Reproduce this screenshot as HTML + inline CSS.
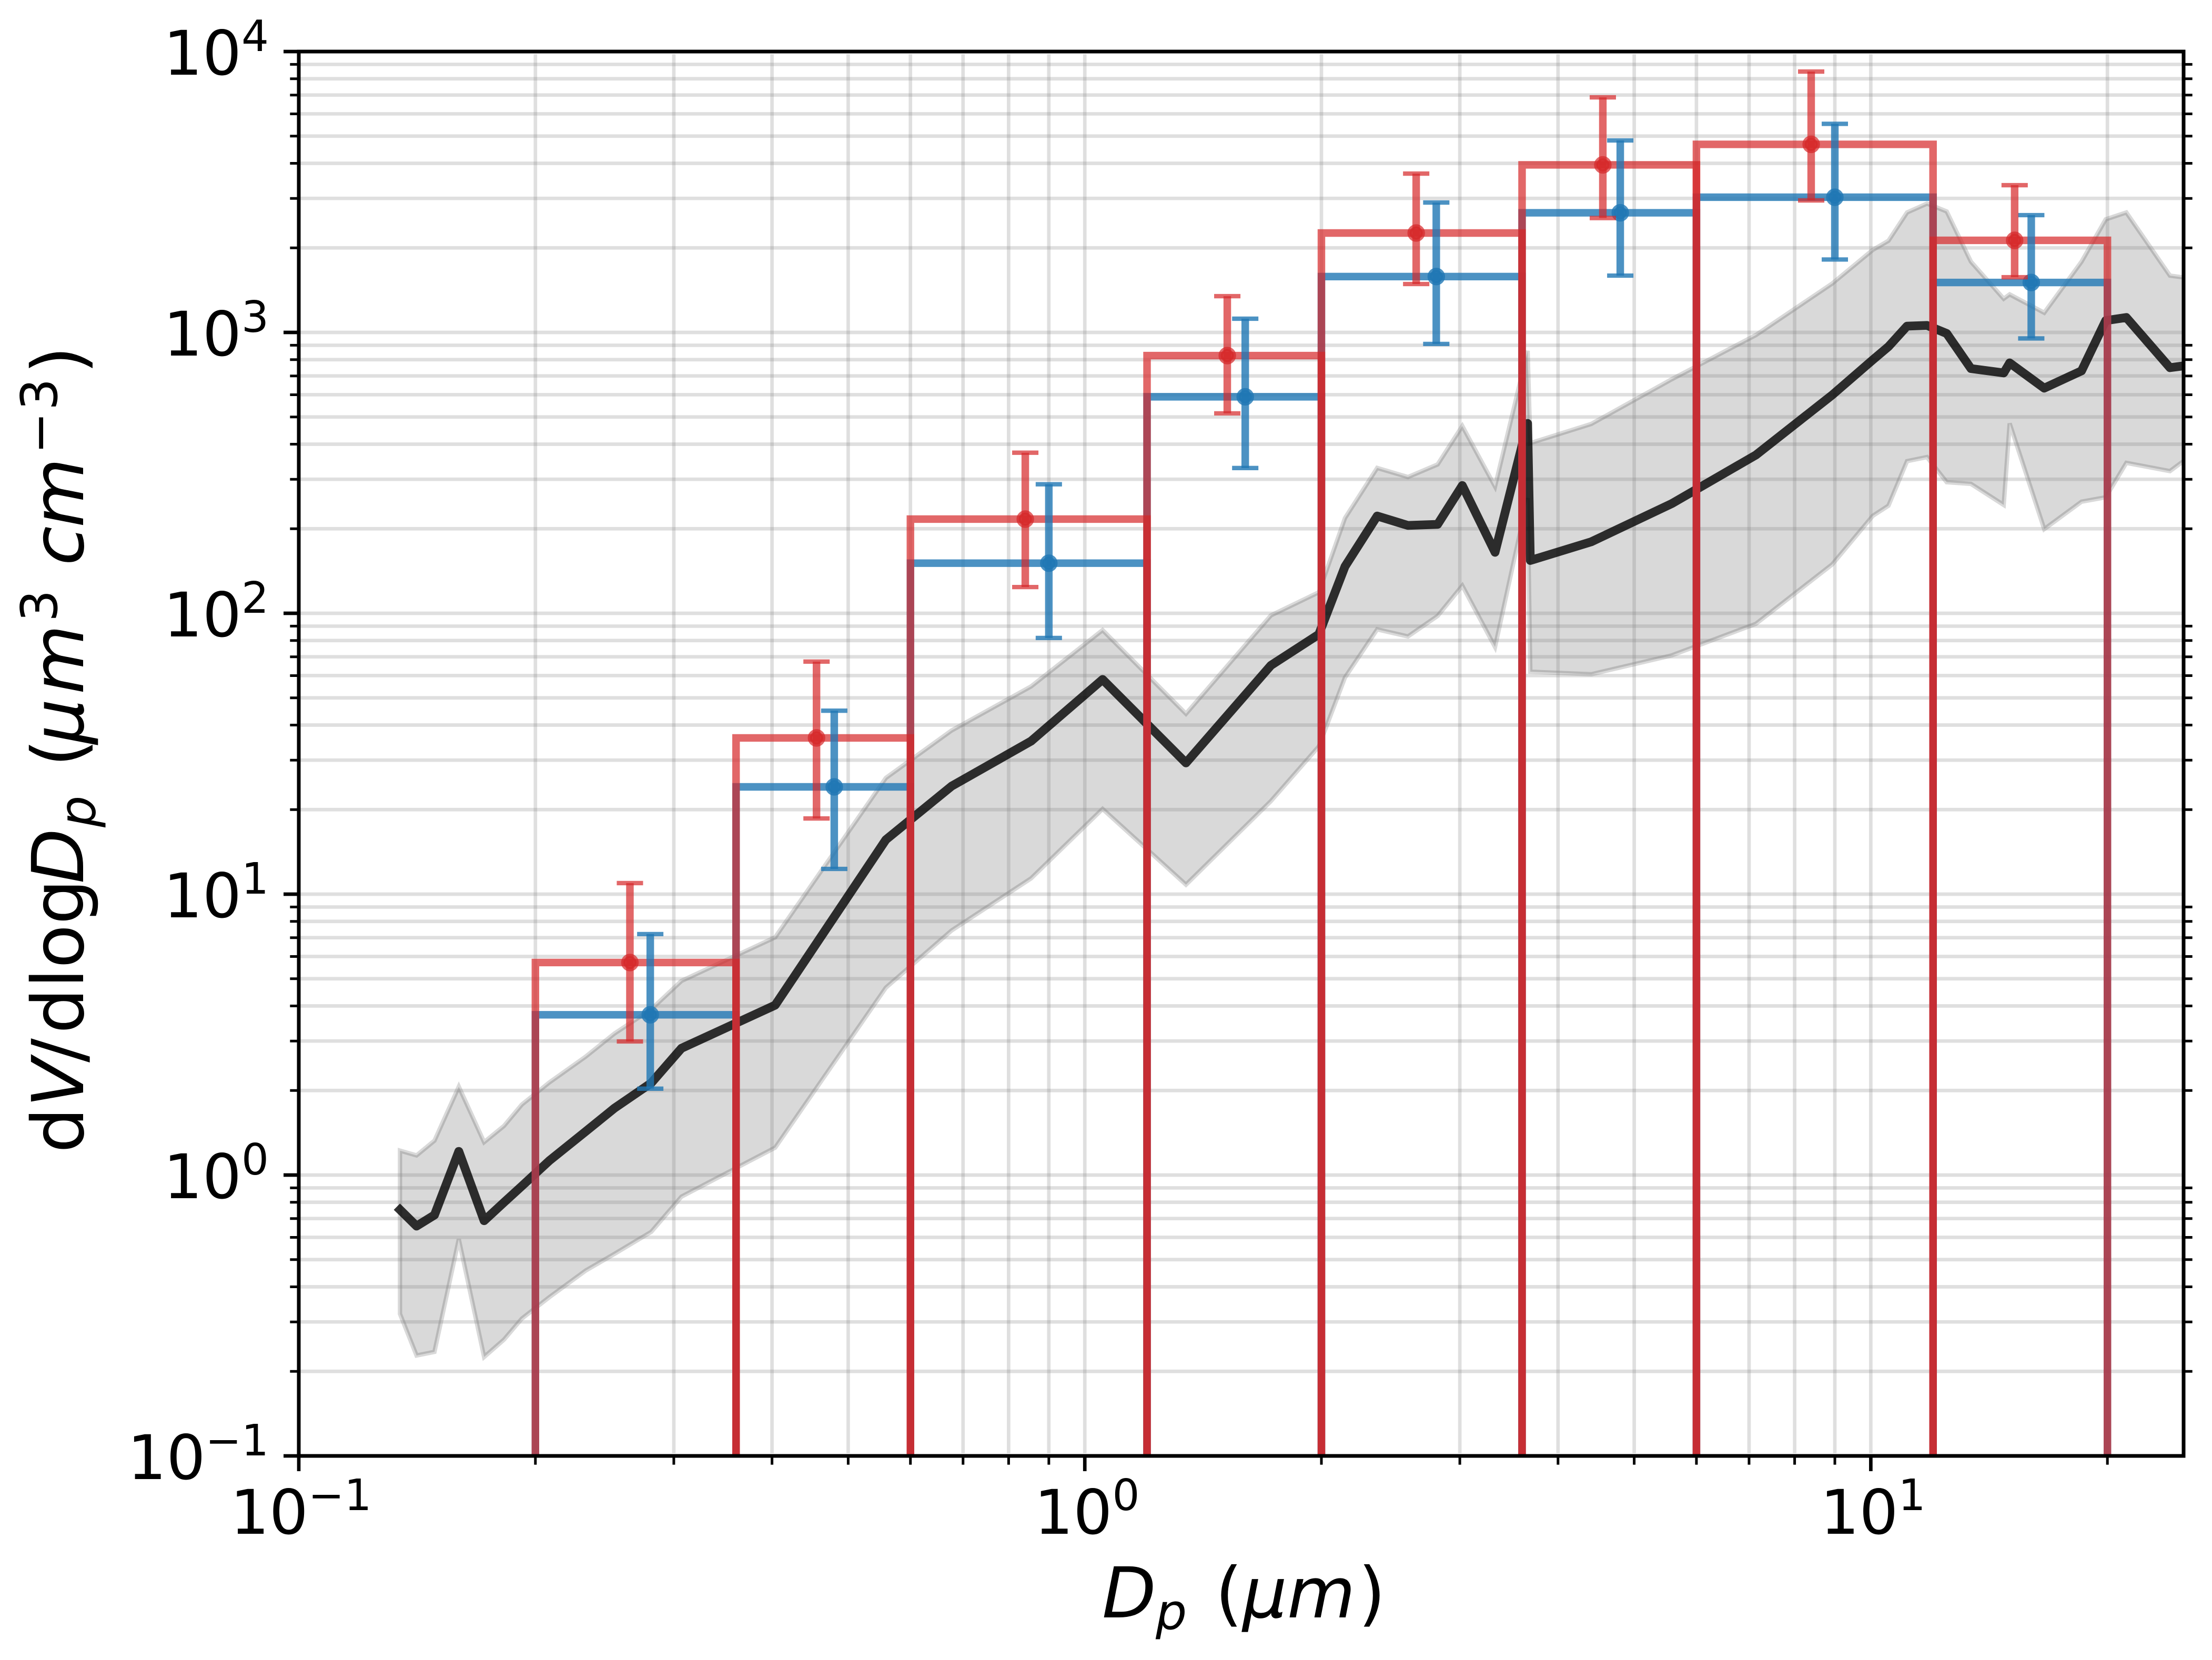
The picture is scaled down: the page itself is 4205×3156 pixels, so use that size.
<!DOCTYPE html>
<html lang="en">
<head>
<meta charset="utf-8">
<title>dV/dlogDp size distribution</title>
<style>
  html, body { margin: 0; padding: 0; background: #ffffff; }
  svg { display: block; font-family: "DejaVu Sans", "Liberation Sans", sans-serif; }
</style>
</head>
<body>
<svg id="chart" xmlns="http://www.w3.org/2000/svg" width="4205" height="3156" viewBox="0 0 4205 3156">
  <rect x="0" y="0" width="4205" height="3156" fill="#ffffff"/>
  <defs>
    <clipPath id="plot-clip"><rect x="568" y="98" width="3583" height="2670"/></clipPath>
  </defs>
  <g id="marks" clip-path="url(#plot-clip)"></g>
  <g id="frame"></g>
  <g id="tick-labels" fill="#000000"></g>

  <text y="3075" font-size="133.3" fill="#000000"><tspan x="2095" font-style="italic">D</tspan><tspan x="2197" dy="22" font-size="93.3" font-style="italic">p</tspan><tspan x="2310" dy="-22">(</tspan><tspan x="2362" font-style="italic">μm</tspan><tspan x="2582">)</tspan></text>

  <text transform="translate(158,2185) rotate(-90)" font-size="136" fill="#000000"><tspan x="-7" y="0">d</tspan><tspan x="80" y="0" font-style="italic">V</tspan><tspan x="165" y="0">/</tspan><tspan x="220" y="0">dlog</tspan><tspan x="505" y="0" font-style="italic">D</tspan><tspan x="612" y="23" font-size="95" font-style="italic">p</tspan><tspan x="727" y="0">(</tspan><tspan x="770" y="0" font-style="italic">μ</tspan><tspan x="865" y="0" font-style="italic">m</tspan><tspan x="1003" y="-50" font-size="95">3</tspan><tspan x="1110" y="0" font-style="italic">c</tspan><tspan x="1182" y="0" font-style="italic">m</tspan><tspan x="1322" y="-50" font-size="95">−</tspan><tspan x="1405" y="-50" font-size="95">3</tspan><tspan x="1474" y="0">)</tspan></text>
</svg>

<script>
// ---- Data ----
const xExponents = [-1, 0, 1];
const yExponents = [-1, 0, 1, 2, 3, 4];
const minorMultiples = [2, 3, 4, 5, 6, 7, 8, 9];

const binEdges = [0.2, 0.36, 0.6, 1.2, 2, 3.6, 6, 12, 20];

const redX     = [0.2638, 0.4557, 0.84, 1.518, 2.64, 4.561, 8.397, 15.24];
const redMean  = [5.71, 36.0, 216.4, 827, 2259, 3949, 4673, 2127];
const redLower = [2.99, 18.6, 124, 515, 1487, 2554, 2951, 1572];
const redUpper = [10.95, 67.3, 373, 1346, 3677, 6870, 8487, 3344];

const blueX     = [0.28, 0.48, 0.9, 1.6, 2.8, 4.8, 9, 16];
const blueMean  = [3.72, 24.1, 150.8, 590, 1581, 2666, 3029, 1506];
const blueLower = [2.03, 12.3, 81.7, 329, 910, 1593, 1818, 952];
const blueUpper = [7.21, 45, 288, 1119, 2900, 4825, 5529, 2616];

const sizes = [0.1345, 0.1412, 0.1488, 0.1598, 0.1721, 0.1824, 0.1922, 0.2084, 0.2318, 0.2521, 0.2808, 0.3068,
  0.4037, 0.5584, 0.6769, 0.8544, 1.0535, 1.345, 1.725, 1.985, 2.143, 2.355, 2.577, 2.811, 3.022, 3.326, 3.659, 3.688,
  4.409, 5.581, 7.142, 8.93, 10.06, 10.53, 11.12, 11.79, 12.49, 13.41, 14.76, 15.02, 16.62, 18.54, 19.9, 21.14, 24.02, 25.15];

const medianValues = [0.7524, 0.6581, 0.7206, 1.214, 0.6877, 0.7991, 0.9135, 1.1258, 1.4303, 1.7299, 2.1269, 2.8269,
  4.026, 15.63, 24.24, 35.07, 58.13, 29.33, 65.25, 84.16, 146.8, 222.0, 205.5, 207.3, 285.1, 164.9, 474.3, 154.2,
  179.7, 245.7, 366.1, 598.6, 799.0, 890.1, 1053, 1059, 991.4, 743.5, 717.4, 778.8, 633.2, 729.9, 1102, 1130, 749, 762.1];

const upperValues = [1.2216, 1.1746, 1.3255, 2.0637, 1.3096, 1.4957, 1.782, 2.1378, 2.6417, 3.1899, 3.8911, 4.911,
  7.021, 25.94, 38.26, 54.91, 87.13, 43.88, 98.29, 118.8, 218.3, 329.2, 305.6, 338.8, 464.2, 282.7, 859.9, 403.6,
  472.2, 681.3, 978.7, 1493, 1968, 2120, 2673, 2876, 2696, 1786, 1318, 1366, 1175, 1786, 2527, 2673, 1593, 1566];

const lowerValues = [0.3205, 0.2278, 0.2347, 0.5909, 0.225, 0.2594, 0.3082, 0.3677, 0.4572, 0.5238, 0.6276, 0.8379,
  1.2515, 4.648, 7.426, 11.38, 20.11, 10.81, 21.45, 33.59, 59.09, 87.66, 82.72, 97.87, 125.4, 75.87, 257.1, 61.96,
  60.66, 70.82, 91.74, 149.3, 222.4, 241.6, 348.1, 359.9, 292.9, 288.9, 243.1, 474.3, 199.4, 249.7, 258.8, 343.2, 320.7, 353];

// ---- Axes ----
const AX_LEFT = 568, AX_RIGHT = 4151, AX_TOP = 98, AX_BOTTOM = 2768;
const X_PER_DECADE = 1494.2, Y_PER_DECADE = 534;
const xScale = function (v) { return AX_LEFT + X_PER_DECADE * (Math.log10(v) + 1); };
const yScale = function (v) { return AX_TOP + Y_PER_DECADE * (4 - Math.log10(v)); };
const xMax = 25;

const NS = 'http://www.w3.org/2000/svg';
const marks = document.getElementById('marks');
const frame = document.getElementById('frame');
const tickLabels = document.getElementById('tick-labels');

function make(tag, parent, attrs) {
  const el = document.createElementNS(NS, tag);
  for (const k in attrs) el.setAttribute(k, attrs[k]);
  parent.appendChild(el);
  return el;
}
function pathFrom(xs, ys) {
  return xs.map(function (v, i) { return (i ? 'L' : 'M') + xScale(v).toFixed(2) + ' ' + yScale(ys[i]).toFixed(2); }).join(' ');
}

// ---- Uncertainty band ----
const bandPath = pathFrom(sizes, upperValues) + ' ' +
  pathFrom(sizes.slice().reverse(), lowerValues.slice().reverse()).replace('M', 'L') + ' Z';
const band = make('path', marks, { d: bandPath, fill: '#000000', 'fill-opacity': 0.15, stroke: '#000000', 'stroke-opacity': 0.15, 'stroke-width': 8.33, 'stroke-linejoin': 'miter' });



// ---- Grid ----
const gridGroup = make('g', marks, { stroke: '#808080', 'stroke-opacity': 0.25, 'stroke-width': 6.67 });


xExponents.forEach(function (e) {
  [1].concat(minorMultiples).forEach(function (m) {
    const v = m * Math.pow(10, e);
    if (v > xMax) return;
    const line = make('line', gridGroup, { x1: xScale(v), x2: xScale(v), y1: AX_TOP + 5, y2: AX_BOTTOM - 5 });
    
    
  });
});
yExponents.forEach(function (e) {
  [1].concat(minorMultiples).forEach(function (m) {
    const v = m * Math.pow(10, e);
    if (v > 10000) return;
    const line = make('line', gridGroup, { x1: AX_LEFT, x2: AX_RIGHT, y1: yScale(v), y2: yScale(v) });
    
    
  });
});

// ---- Median line ----
const medianLine = make('path', marks, { d: pathFrom(sizes, medianValues), fill: 'none', stroke: '#000000', 'stroke-opacity': 0.8, 'stroke-width': 16.67, 'stroke-linejoin': 'round', 'stroke-linecap': 'square' });



// ---- Histogram bars ----
function drawBar(parent, i, value, color, opacity) {
  const l = xScale(binEdges[i]), r = xScale(binEdges[i + 1]), t = yScale(value), b = AX_BOTTOM + 20;
  return make('path', parent, { d: 'M' + l + ' ' + b + ' L' + l + ' ' + t + ' L' + r + ' ' + t + ' L' + r + ' ' + b, fill: 'none', stroke: color, 'stroke-opacity': opacity, 'stroke-width': 14.4, 'stroke-linejoin': 'miter' });
}
blueMean.forEach(function (v, i) {
  const bar = drawBar(marks, i, v, '#1f77b4', 0.8);
  
  
});
redMean.forEach(function (v, i) {
  const bar = drawBar(marks, i, v, '#d62728', 0.7);
  
  
});

// ---- Error bars ----
function drawError(parent, x, mean, lo, hi, color, opacity) {
  const px = xScale(x), pm = yScale(mean), pl = yScale(lo), ph = yScale(hi);
  make('line', parent, { x1: px, x2: px, y1: ph, y2: pl, stroke: color, 'stroke-opacity': opacity, 'stroke-width': 14.4 });
  make('line', parent, { x1: px - 25, x2: px + 25, y1: ph, y2: ph, stroke: color, 'stroke-opacity': opacity, 'stroke-width': 8.33 });
  make('line', parent, { x1: px - 25, x2: px + 25, y1: pl, y2: pl, stroke: color, 'stroke-opacity': opacity, 'stroke-width': 8.33 });
  make('circle', parent, { cx: px, cy: pm, r: 12.5, fill: color, 'fill-opacity': opacity, stroke: color, 'stroke-opacity': opacity, 'stroke-width': 8.33 });
}
blueMean.forEach(function (v, i) {
  const g = make('g', marks, {});
  
  
  drawError(g, blueX[i], v, blueLower[i], blueUpper[i], '#1f77b4', 0.8);
});
redMean.forEach(function (v, i) {
  const g = make('g', marks, {});
  
  
  drawError(g, redX[i], v, redLower[i], redUpper[i], '#d62728', 0.7);
});

// ---- Spines ----
const spines = make('rect', frame, { x: AX_LEFT, y: AX_TOP, width: AX_RIGHT - AX_LEFT, height: AX_BOTTOM - AX_TOP, fill: 'none', stroke: '#000000', 'stroke-width': 7, 'stroke-linejoin': 'miter' });



// ---- Ticks ----
xExponents.forEach(function (e) {
  const px = xScale(Math.pow(10, e));
  const tick = make('line', frame, { x1: px, x2: px, y1: AX_BOTTOM, y2: AX_BOTTOM + 29, stroke: '#000000', 'stroke-width': 6.67 });
  
  
  minorMultiples.forEach(function (m) {
    const v = m * Math.pow(10, e);
    if (v > xMax) return;
    const minor = make('line', frame, { x1: xScale(v), x2: xScale(v), y1: AX_BOTTOM, y2: AX_BOTTOM + 16.67, stroke: '#000000', 'stroke-width': 5 });
    
    
  });
});
yExponents.forEach(function (e) {
  const py = yScale(Math.pow(10, e));
  const tick = make('line', frame, { x1: AX_LEFT - 29, x2: AX_LEFT, y1: py, y2: py, stroke: '#000000', 'stroke-width': 6.67 });
  
  
  minorMultiples.forEach(function (m) {
    const v = m * Math.pow(10, e);
    if (v > 10000) return;
    const left = make('line', frame, { x1: AX_LEFT - 16.67, x2: AX_LEFT, y1: yScale(v), y2: yScale(v), stroke: '#000000', 'stroke-width': 5 });
    
    
    const right = make('line', frame, { x1: AX_RIGHT, x2: AX_RIGHT + 16.67, y1: yScale(v), y2: yScale(v), stroke: '#000000', 'stroke-width': 5 });
    
    
  });
});

// ---- Tick labels ----
function drawPowerLabel(parent, x, y, anchor, exponent) {
  const t = make('text', parent, { x: x, y: y, 'text-anchor': anchor, 'font-size': 116.67 });
  const base = make('tspan', t, {});
  base.textContent = '10';
  const sup = make('tspan', t, { dy: -45, 'font-size': 81.67 });
  sup.textContent = String(exponent).replace('-', '\u2212');
  return t;
}
xExponents.forEach(function (e) {
  const label = drawPowerLabel(tickLabels, xScale(Math.pow(10, e)) + 4, 2916, 'middle', e);
  
  
});
yExponents.forEach(function (e) {
  const label = drawPowerLabel(tickLabels, 511, yScale(Math.pow(10, e)) + 44, 'end', e);
  
  
});
</script>
</body>
</html>
